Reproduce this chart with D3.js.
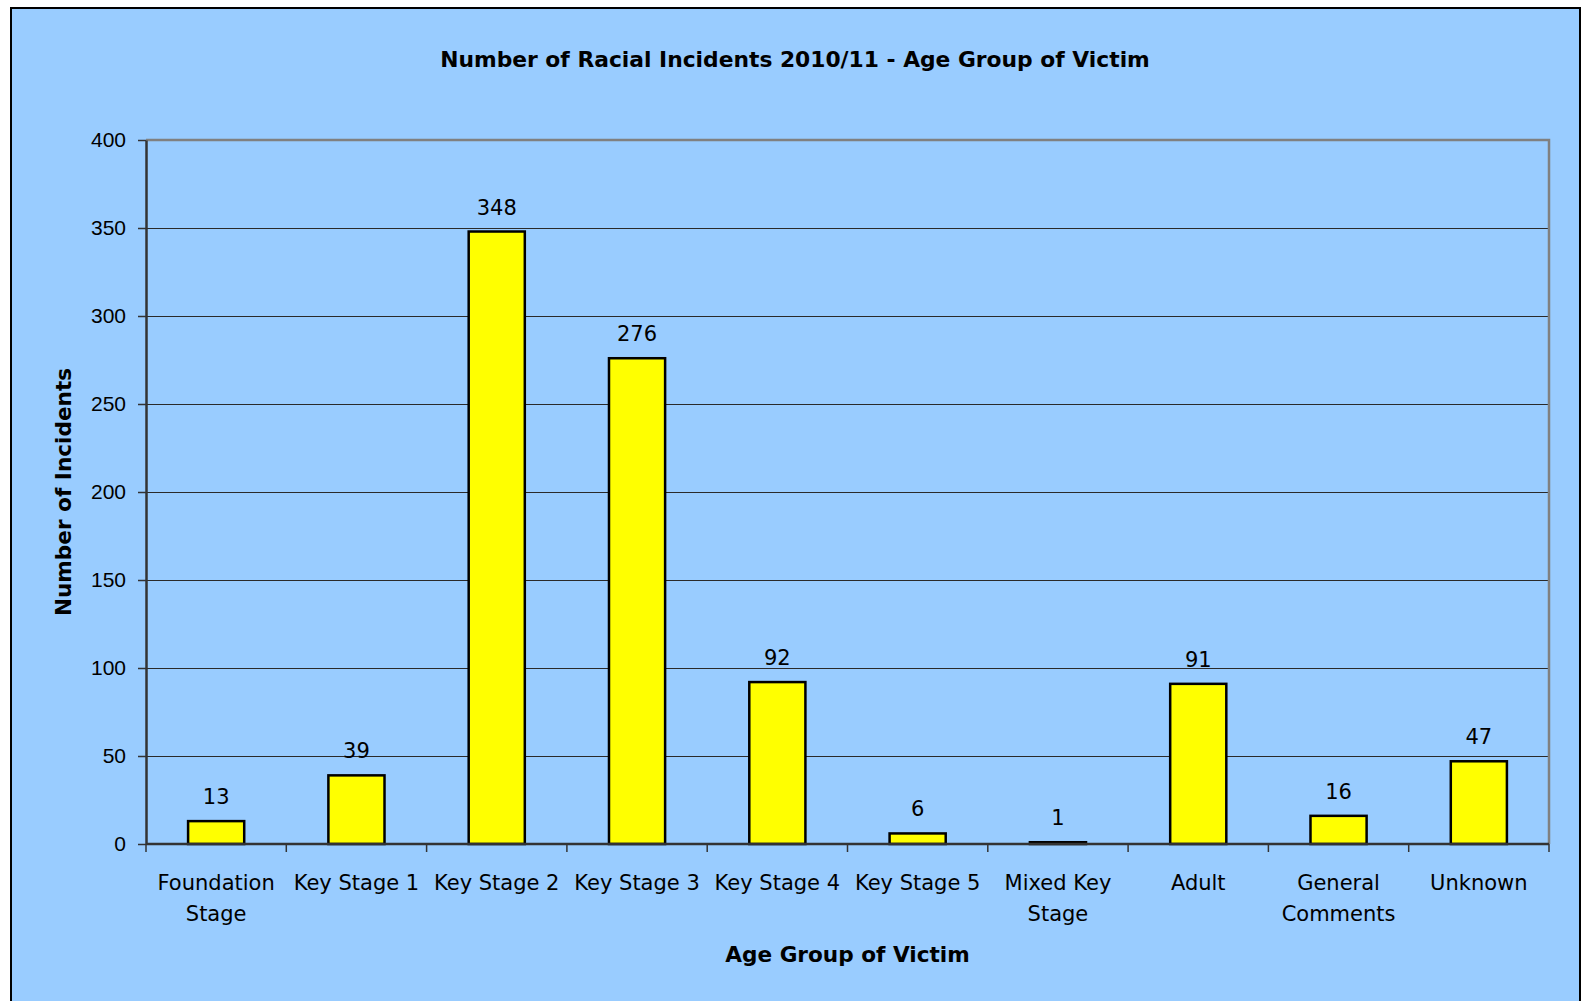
<!DOCTYPE html>
<html lang="en">
<head>
  <meta charset="UTF-8">
  <title>Number of Racial Incidents 2010/11</title>
  <script src="https://d3js.org/d3.v7.min.js"></script>
  <style>
    body {
      margin: 0;
      background: #ffffff;
      font-family: 'DejaVu Sans', sans-serif;
    }
    svg { display: block; }
    .tick-label, .value-label {
      font-size: 21px;
      fill: #000;
    }
    .cat-label {
      font-size: 21px;
      fill: #000;
    }
    .title {
      font-size: 21.8px;
      font-weight: bold;
    }
    .axis-title {
      font-size: 21.6px;
      font-weight: bold;
    }
  </style>
</head>
<body>
  <svg id="chart"></svg>

  <script>
    const categories = ["Foundation Stage", "Key Stage 1", "Key Stage 2", "Key Stage 3", "Key Stage 4",
                        "Key Stage 5", "Mixed Key Stage", "Adult", "General Comments", "Unknown"];
    const tickLabels = [["Foundation", "Stage"], ["Key Stage 1"], ["Key Stage 2"], ["Key Stage 3"], ["Key Stage 4"],
                        ["Key Stage 5"], ["Mixed Key", "Stage"], ["Adult"], ["General", "Comments"], ["Unknown"]];
    const incidents = [13, 39, 348, 276, 92, 6, 1, 91, 16, 47];
    const yTicks = [0, 50, 100, 150, 200, 250, 300, 350, 400];

    const width = 1582, height = 1001;
    const plot = { left: 146, right: 1549, top: 140, bottom: 844 };

    const svg = d3.select("#chart")
      .attr("width", width)
      .attr("height", height);

    // chart area background + frame
    svg.append("rect")
      .attr("x", 11).attr("y", 8)
      .attr("width", 1569).attr("height", 1010)
      .attr("fill", "#99ccff")
      .attr("stroke", "#000")
      .attr("stroke-width", 2);

    const x = d3.scaleBand()
      .domain(categories)
      .range([plot.left, plot.right])
      .paddingInner(0.6)
      .paddingOuter(0.3);

    const y = d3.scaleLinear()
      .domain([0, 400])
      .range([plot.bottom, plot.top]);

    // gridlines
    svg.append("g")
      .selectAll("line")
      .data(yTicks.filter(d => d > 0 && d < 400))
      .enter().append("line")
      .attr("x1", plot.left).attr("x2", plot.right)
      .attr("y1", d => y(d) + 0.5).attr("y2", d => y(d) + 0.5)
      .attr("stroke", "#2a2a2a")
      .attr("stroke-width", 1)
      .attr("shape-rendering", "crispEdges");

    // plot border (top + right)
    svg.append("path")
      .attr("d", `M${plot.left},${y(400)}H${plot.right}V${plot.bottom}`)
      .attr("fill", "none")
      .attr("stroke", "#808080")
      .attr("stroke-width", 2.5);

    // bars
    svg.append("g")
      .selectAll("rect")
      .data(incidents)
      .enter().append("rect")
      .attr("x", (d, i) => x(categories[i]))
      .attr("y", d => y(d))
      .attr("width", x.bandwidth())
      .attr("height", d => y(0) - y(d))
      .attr("fill", "#ffff00")
      .attr("stroke", "#000")
      .attr("stroke-width", 2.5);

    // value labels
    svg.append("g")
      .selectAll("text")
      .data(incidents)
      .enter().append("text")
      .attr("class", "value-label")
      .attr("x", (d, i) => x(categories[i]) + x.bandwidth() / 2)
      .attr("y", d => y(d) - 17)
      .attr("text-anchor", "middle")
      .text(d => d);

    // y axis
    const yAxis = svg.append("g")
      .attr("transform", `translate(${plot.left},0)`)
      .call(d3.axisLeft(y).tickValues(yTicks).tickSize(8).tickPadding(12).tickSizeOuter(0));
    yAxis.select(".domain").attr("stroke", "#333").attr("stroke-width", 2.5);
    yAxis.selectAll(".tick line").attr("stroke", "#333").attr("stroke-width", 1.5);
    yAxis.selectAll(".tick text")
      .attr("class", "tick-label")
      .attr("font-family", null)
      .attr("font-size", null);

    // x axis: ticks at category boundaries
    const step = x.step();
    const bounds = categories.map(c => x(c) - step * x.paddingInner() / 2).concat([plot.right]);
    const xAxis = svg.append("g");
    xAxis.append("line")
      .attr("x1", plot.left).attr("x2", plot.right)
      .attr("y1", plot.bottom).attr("y2", plot.bottom)
      .attr("stroke", "#333").attr("stroke-width", 2.5);
    xAxis.selectAll(".xtick")
      .data(bounds)
      .enter().append("line")
      .attr("class", "xtick")
      .attr("x1", d => d).attr("x2", d => d)
      .attr("y1", plot.bottom).attr("y2", plot.bottom + 8)
      .attr("stroke", "#333").attr("stroke-width", 1.5);

    const catText = xAxis.selectAll(".cat-label")
      .data(tickLabels)
      .enter().append("text")
      .attr("class", "cat-label")
      .attr("text-anchor", "middle")
      .attr("x", (d, i) => x(categories[i]) + x.bandwidth() / 2)
      .attr("y", 890);
    catText.selectAll("tspan")
      .data((d, i) => d.map(t => ({ t, cx: x(categories[i]) + x.bandwidth() / 2 })))
      .enter().append("tspan")
      .attr("x", d => d.cx)
      .attr("dy", (d, j) => j === 0 ? 0 : 31)
      .text(d => d.t);

    // titles
    svg.append("text")
      .attr("class", "title")
      .attr("x", 795).attr("y", 67)
      .attr("text-anchor", "middle")
      .text("Number of Racial Incidents 2010/11 - Age Group of Victim");

    svg.append("text")
      .attr("class", "axis-title")
      .attr("x", (plot.left + plot.right) / 2).attr("y", 962)
      .attr("text-anchor", "middle")
      .text("Age Group of Victim");

    svg.append("text")
      .attr("class", "axis-title")
      .attr("transform", `translate(71,${(plot.top + plot.bottom) / 2}) rotate(-90)`)
      .attr("text-anchor", "middle")
      .text("Number of Incidents");
  </script>
</body>
</html>
